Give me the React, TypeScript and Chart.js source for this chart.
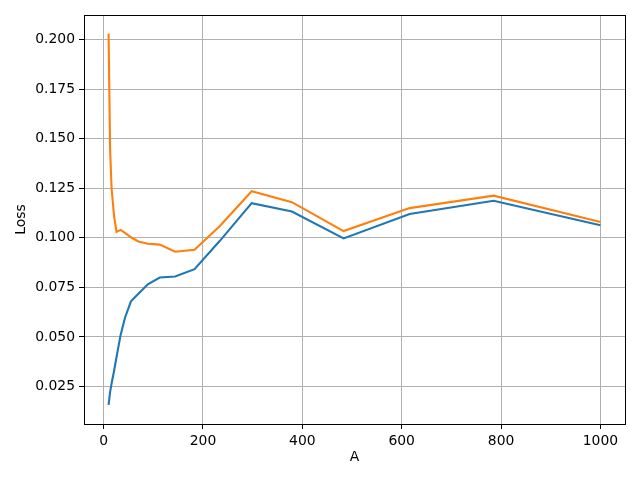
import React, { useEffect, useRef } from "react";
import { Chart, registerables } from "chart.js";

Chart.register(...registerables);

const aValues = [10, 13, 16, 21, 26, 34, 43, 55, 70, 89, 113, 144, 183, 234, 298, 379, 483, 616, 785, 1000];
const lossBlue = [0.0158, 0.0222, 0.0265, 0.0328, 0.0399, 0.0508, 0.0597, 0.068, 0.0718, 0.0766, 0.080, 0.0805, 0.0842, 0.0985, 0.1175, 0.1133, 0.0997, 0.1120, 0.1187, 0.1064];
const lossOrange = [0.2030, 0.1450, 0.1250, 0.1110, 0.1030, 0.1040, 0.1025, 0.1003, 0.0982, 0.0970, 0.0966, 0.0930, 0.0940, 0.1060, 0.1235, 0.1180, 0.1034, 0.1150, 0.1213, 0.1080];
const xTicks = [0, 200, 400, 600, 800, 1000];
const yTicks = [0.025, 0.05, 0.075, 0.1, 0.125, 0.15, 0.175, 0.2];

const FONT = "'DejaVu Sans', sans-serif";

const framePlugin = {
  id: "frame",
  afterDraw(chart: any) {
    const { ctx, chartArea } = chart;
    ctx.save();
    ctx.strokeStyle = "#000";
    ctx.lineWidth = 1;
    ctx.strokeRect(
      Math.round(chartArea.left) + 0.5,
      Math.round(chartArea.top) + 0.5,
      Math.round(chartArea.right - chartArea.left),
      Math.round(chartArea.bottom - chartArea.top)
    );
    ctx.restore();
  },
};

export default function App() {
  const ref = useRef<HTMLCanvasElement>(null);
  useEffect(() => {
    if (!ref.current) return;
    const toPts = (ys: number[]) => aValues.map((x, i) => ({ x, y: ys[i] }));
    const chart = new Chart(ref.current, {
      type: "line",
      data: {
        datasets: [
          {
            data: toPts(lossBlue),
            borderColor: "#1f77b4",
            borderWidth: 2.1,
            pointRadius: 0,
            tension: 0,
            fill: false,
          },
          {
            data: toPts(lossOrange),
            borderColor: "#ff7f0e",
            borderWidth: 2.1,
            pointRadius: 0,
            tension: 0,
            fill: false,
          },
        ],
      },
      options: {
        animation: false,
        responsive: false,
        devicePixelRatio: 1,
        layout: { padding: { left: 0, top: 15, right: 15, bottom: 0 } },
        plugins: { legend: { display: false }, tooltip: { enabled: false } },
        scales: {
          x: {
            type: "linear",
            min: -39.5,
            max: 1049.5,
            afterBuildTicks: (s: any) => {
              s.ticks = xTicks.map((v) => ({ value: v }));
            },
            afterFit: (s: any) => {
              s.height = 56;
            },
            ticks: {
              color: "#000",
              font: { family: FONT, size: 13.9 },
              padding: 4,
              maxRotation: 0,
              callback: (v: any) => String(v),
            },
            grid: { color: "#b0b0b0", lineWidth: 1, tickColor: "#000", tickLength: 5 },
            border: { color: "#000", width: 1 },
            title: {
              display: true,
              text: "A",
              color: "#000",
              font: { family: FONT, size: 13.9 },
              padding: { top: 0, bottom: 14 },
            },
          },
          y: {
            type: "linear",
            min: 0.0061,
            max: 0.2124,
            afterBuildTicks: (s: any) => {
              s.ticks = yTicks.map((v) => ({ value: v }));
            },
            afterFit: (s: any) => {
              s.width = 84;
            },
            ticks: {
              color: "#000",
              font: { family: FONT, size: 13.9 },
              padding: 4,
              callback: (v: any) => Number(v).toFixed(3),
            },
            grid: { color: "#b0b0b0", lineWidth: 1, tickColor: "#000", tickLength: 5 },
            border: { color: "#000", width: 1 },
            title: {
              display: true,
              text: "Loss",
              color: "#000",
              font: { family: FONT, size: 13.9 },
              padding: { top: 13, bottom: 0 },
            },
          },
        },
      },
      plugins: [framePlugin],
    });
    return () => chart.destroy();
  }, []);
  return (
    <div style={{ position: "absolute", left: 0, top: 0, width: 640, height: 480, background: "#fff" }}>
      <canvas ref={ref} width={640} height={480} style={{ display: "block" }} />
    </div>
  );
}
